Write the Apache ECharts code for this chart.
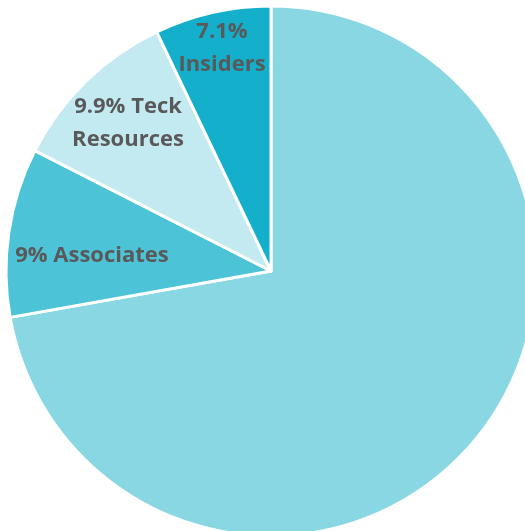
<!DOCTYPE html>
<html>
<head>
<meta charset="utf-8">
<script src="https://cdn.jsdelivr.net/npm/echarts@6/dist/echarts.min.js"></script>
<style>html,body{margin:0;padding:0;background:#fff}#c{width:525px;height:531px}</style>
</head>
<body>
<div id="c"></div>
<script>
// Shareholding (slice sizes; label texts as printed)
var categories = ['Other', 'Associates', 'Teck Resources', 'Insiders'];
var values = [72.2, 10.3, 10.4, 7.1];
var labels = ['', '9% Associates', '9.9% Teck\nResources', '7.1%\nInsiders'];
var colors = ['#8AD7E4', '#4DC3D7', '#C4EAF1', '#13AFCB'];

var labelPos = [null, [92, 256], [128, 123], [222, 48]];

var chart = echarts.init(document.getElementById('c'), null, {renderer: 'canvas'});
chart.setOption({
  animation: false,
  series: [{
    type: 'pie',
    center: [271, 271],
    radius: [0, 265],
    startAngle: 90,
    clockwise: true,
    silent: true,
    itemStyle: {borderColor: '#ffffff', borderWidth: 3},
    labelLine: {show: false},
    label: {
      position: 'inside',
      color: '#595959',
      fontFamily: 'Open Sans',
      fontWeight: 'bold',
      fontSize: 22,
      lineHeight: 33,
      formatter: function (p) { return labels[p.dataIndex]; }
    },
    labelLayout: function (p) {
      var pos = labelPos[p.dataIndex];
      if (!pos) return {};
      return {x: pos[0], y: pos[1], align: 'center', verticalAlign: 'middle'};
    },
    data: categories.map(function (c, i) {
      return {
        name: c,
        value: values[i],
        itemStyle: {color: colors[i]},
        label: {show: labels[i] !== ''}
      };
    })
  }]
});
</script>
</body>
</html>
